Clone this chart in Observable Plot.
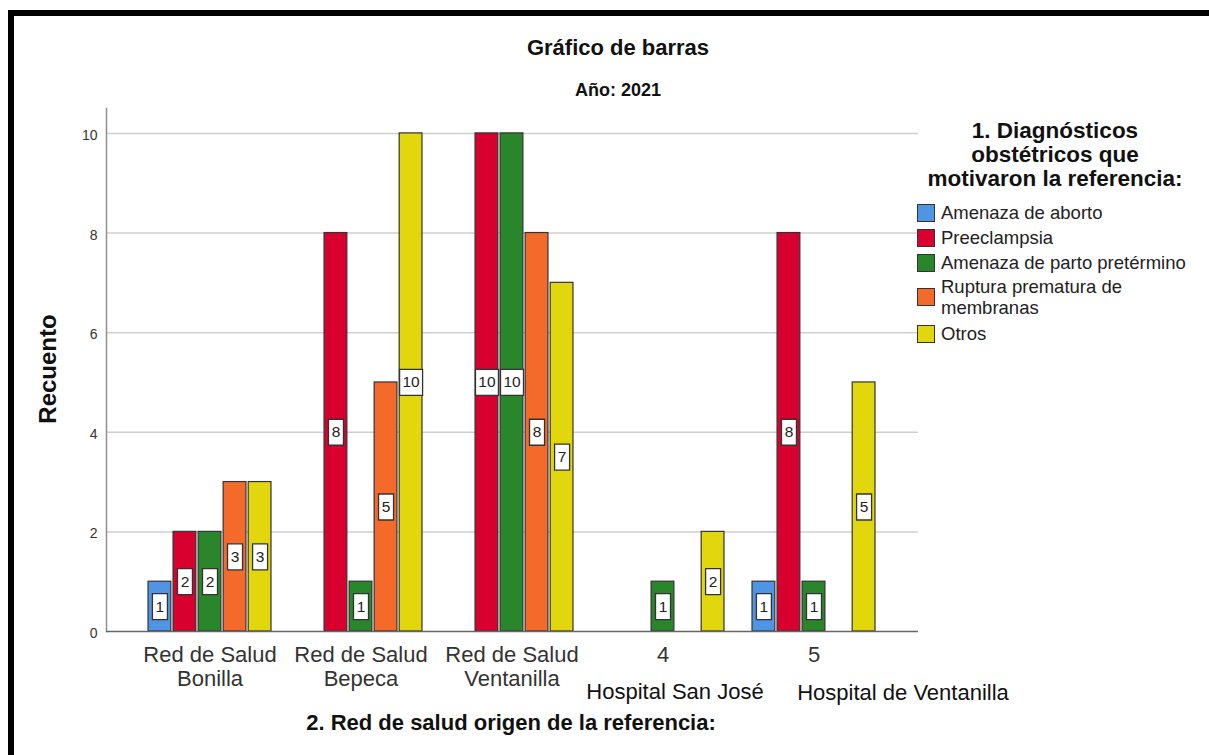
<!DOCTYPE html>
<html>
<head>
<meta charset="utf-8">
<script src="https://cdn.jsdelivr.net/npm/d3@7"></script>
<script src="https://cdn.jsdelivr.net/npm/@observablehq/plot@0.6"></script>
<style>
  html, body { margin: 0; padding: 0; background: #fff; }
  #wrap { position: relative; width: 1209px; height: 755px; overflow: hidden; font-family: "Liberation Sans", Arial, sans-serif; color: #111; }
  #wrap svg { position: absolute; left: 0; top: 0; }
  .border { position: absolute; left: 8px; top: 10px; width: 1300px; height: 800px; border-top: 6px solid #000; border-left: 6px solid #000; box-sizing: border-box; }
  .t { position: absolute; white-space: nowrap; transform: translate(-50%, -50%); }
  .title { font-weight: bold; font-size: 22px; }
  .sub { font-weight: bold; font-size: 18px; }
  .ylab { font-weight: bold; font-size: 24px; transform: translate(-50%, -50%) rotate(-90deg); }
  .xlab { font-weight: bold; font-size: 22px; }
  .hosp { font-size: 22px; }
  .ltitle { position: absolute; left: 1055px; top: 119px; transform: translateX(-50%); font-weight: bold; font-size: 22.5px; line-height: 24px; text-align: center; white-space: nowrap; }
  .item { position: absolute; left: 917px; display: flex; align-items: center; font-size: 18.5px; line-height: 22px; color: #222; }
  .sw { width: 16px; height: 16px; border: 1px solid #333; margin-right: 6px; flex: none; }
</style>
</head>
<body>
<div id="wrap"></div>
<script>
// ---- data ----
const groups = ["Red de Salud Bonilla", "Red de Salud Bepeca", "Red de Salud Ventanilla", "4", "5"];
const tickLabels = ["Red de Salud\nBonilla", "Red de Salud\nBepeca", "Red de Salud\nVentanilla", "4", "5"];
const extraLabels = ["Hospital San José", "Hospital de Ventanilla"];
const series = ["Amenaza de aborto", "Preeclampsia", "Amenaza de parto pretérmino", "Ruptura prematura de membranas", "Otros"];
const legendLabels = ["Amenaza de aborto", "Preeclampsia", "Amenaza de parto pretérmino", "Ruptura prematura de\nmembranas", "Otros"];
const colors = ["#4f95e5", "#d7002f", "#2a862a", "#f36a2a", "#e2d70c"];
const amenazaAborto = [1, 0, 0, 0, 1];
const preeclampsia = [2, 8, 10, 0, 8];
const partoPretermino = [2, 1, 10, 1, 1];
const rupturaMembranas = [3, 5, 8, 0, 0];
const otros = [3, 10, 7, 2, 5];
const yTicks = [0, 2, 4, 6, 8, 10];
const titleText = "Gráfico de barras";
const subtitleText = "Año: 2021";
const yLabel = "Recuento";
const xLabel = "2. Red de salud origen de la referencia:";
const legendTitle = "1. Diagnósticos\nobstétricos que\nmotivaron la referencia:";

const seriesValues = [amenazaAborto, preeclampsia, partoPretermino, rupturaMembranas, otros];
const rows = [];
series.forEach((s, i) => groups.forEach((g, j) => {
  const v = seriesValues[i][j];
  if (v > 0) rows.push({series: s, idx: i, group: g, value: v});
}));

// layout constants
const slot = 25.04;
const barW = 23;

function boxSymbol(w, h) {
  return { draw(ctx) { ctx.rect(-w / 2, -h / 2, w, h); } };
}
const narrowBox = boxSymbol(15, 26);
const wideBox = boxSymbol(23, 26);

const marks = [
  Plot.gridY({ticks: yTicks.filter(t => t > 0), stroke: "#cfcfcf", strokeOpacity: 1, strokeWidth: 1.5}),
  Plot.frame({anchor: "left", stroke: "#8f8f8f", strokeWidth: 1.5}),
  Plot.axisY({ticks: yTicks, tickSize: 0, tickPadding: 9, fontSize: 14, label: null, fill: "#333", dy: 2}),
  Plot.axisX({tickSize: 0, tickPadding: 13, fontSize: 22, lineHeight: 1.09, label: null, fill: "#333",
    tickFormat: d => tickLabels[groups.indexOf(d)]})
];
series.forEach((s, i) => {
  const data = rows.filter(r => r.idx === i);
  const dx = (i - 2) * slot;
  const inset = (125.2 - barW) / 2;
  marks.push(Plot.barY(data, {x: "group", y: "value", fill: "series", dx, insetLeft: inset, insetRight: inset, stroke: "#333", strokeWidth: 1.2}));
  marks.push(Plot.dot(data.filter(d => d.value < 10), {x: "group", y: d => d.value / 2, dx, symbol: narrowBox, fill: "#fff", stroke: "#333", strokeWidth: 1.3}));
  marks.push(Plot.dot(data.filter(d => d.value >= 10), {x: "group", y: d => d.value / 2, dx, symbol: wideBox, fill: "#fff", stroke: "#333", strokeWidth: 1.3}));
  marks.push(Plot.text(data, {x: "group", y: d => d.value / 2, dx, text: d => String(d.value), fontSize: 15.5, fill: "#222"}));
});
marks.push(Plot.ruleY([0], {stroke: "#666", strokeWidth: 1.5}));

const chart = Plot.plot({
  width: 1209,
  height: 755,
  marginLeft: 106,
  marginRight: 291,
  marginTop: 108,
  marginBottom: 124,
  style: {fontFamily: "'Liberation Sans', Arial, sans-serif", background: "transparent"},
  x: {domain: groups, paddingInner: 0.172, paddingOuter: 0.27},
  y: {domain: [0, 10.5]},
  color: {domain: series, range: colors},
  marks
});

const wrap = document.getElementById("wrap");
wrap.appendChild(chart);

function addText(cls, text, x, y) {
  const d = document.createElement("div");
  d.className = "t " + cls;
  d.textContent = text;
  d.style.left = x + "px";
  d.style.top = y + "px";
  wrap.appendChild(d);
}
addText("title", titleText, 618, 48);
addText("sub", subtitleText, 618, 90);
addText("ylab", yLabel, 48, 369);
addText("xlab", xLabel, 511, 723);
addText("hosp", extraLabels[0], 675, 692);
addText("hosp", extraLabels[1], 903, 693);

const lt = document.createElement("div");
lt.className = "ltitle";
lt.innerHTML = legendTitle.split("\n").join("<br>");
wrap.appendChild(lt);

const itemCenters = [213, 238, 263, 298, 334];
legendLabels.forEach((lab, i) => {
  const it = document.createElement("div");
  it.className = "item";
  const lines = lab.split("\n");
  const h = lines.length * 22;
  it.style.top = (itemCenters[i] - h / 2) + "px";
  const sw = document.createElement("div");
  sw.className = "sw";
  sw.style.background = colors[i];
  const tx = document.createElement("div");
  tx.innerHTML = lines.join("<br>");
  tx.style.lineHeight = (lines.length > 1 ? 21 : 22) + "px";
  it.appendChild(sw);
  it.appendChild(tx);
  wrap.appendChild(it);
});

const b = document.createElement("div");
b.className = "border";
wrap.appendChild(b);
</script>
</body>
</html>
